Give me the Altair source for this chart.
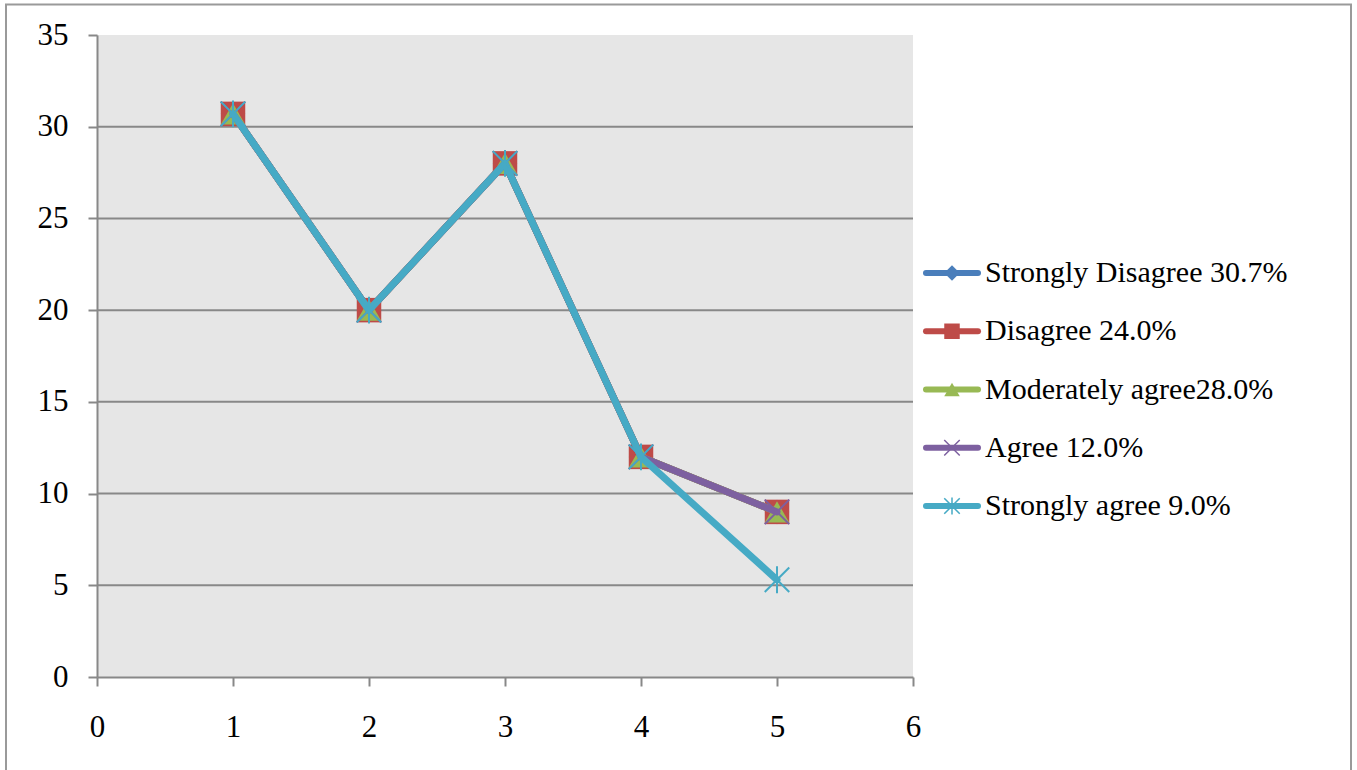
import altair as alt
import pandas as pd

# Survey responses plotted against item number 1..5
item = [1, 2, 3, 4, 5]
series_names = [
    "Strongly Disagree 30.7%",
    "Disagree 24.0%",
    "Moderately agree28.0%",
    "Agree 12.0%",
    "Strongly agree 9.0%",
]
strongly_disagree = [30.7, 20, 28, 12, 9]
disagree = [30.7, 20, 28, 12, 9]
moderately_agree = [30.7, 20, 28, 12, 9]
agree = [30.7, 20, 28, 12, 9]
strongly_agree = [30.7, 20, 28, 12, 5.3]
series_values = [strongly_disagree, disagree, moderately_agree, agree, strongly_agree]

series_colors = ["#4a7ebb", "#be4b48", "#98b954", "#7d60a0", "#46aac5"]
X_PATH = "M-1,-1L1,1M-1,1L1,-1"
STAR_PATH = "M-1,-1L1,1M-1,1L1,-1M0,-1.1L0,1.1"
marker_shapes = ["diamond", "square", "triangle-up", X_PATH, STAR_PATH]
marker_filled = [True, True, True, False, False]

x_ticks = [0, 1, 2, 3, 4, 5, 6]
y_ticks = [0, 5, 10, 15, 20, 25, 30, 35]
grid_levels = [5, 10, 15, 20, 25, 30]

FONT = "Liberation Serif"
GRAY = "#888888"
W, H = 816, 642
LEFT, TOP = 97, 35

x_enc = alt.X(
    "x:Q",
    scale=alt.Scale(domain=[0, 6], nice=False, zero=False),
    axis=alt.Axis(
        values=x_ticks, title=None, grid=False, tickSize=9, tickWidth=2,
        tickColor=GRAY, domainColor=GRAY, domainWidth=2, labelFont=FONT,
        labelFontSize=31, labelColor="black", labelPadding=26, format="d",
        labelFlush=False,
    ),
)
y_enc = alt.Y(
    "y:Q",
    scale=alt.Scale(domain=[0, 35], nice=False),
    axis=alt.Axis(
        values=y_ticks, title=None, grid=False, tickSize=9, tickWidth=2,
        tickColor=GRAY, domainColor=GRAY, domainWidth=2, labelFont=FONT,
        labelFontSize=31, labelColor="black", labelPadding=20, format="d",
        labelFlush=False,
    ),
)

# outer frame around the whole figure
frame = alt.Chart(pd.DataFrame({"k": [0]})).mark_rect(
    fill=None, stroke="#9a9a9a", strokeWidth=2
).encode(
    x=alt.value(-LEFT + 6), x2=alt.value(1351 - LEFT),
    y=alt.value(-TOP + 4.5), y2=alt.value(800),
)

grid = alt.Chart(pd.DataFrame({"y": grid_levels})).mark_rule(
    color=GRAY, strokeWidth=2
).encode(y=y_enc)

plot_layers = [frame, grid]
for name, vals, color, shape, filled in zip(
    series_names, series_values, series_colors, marker_shapes, marker_filled
):
    df = pd.DataFrame({"x": item, "y": vals, "series": name})
    line = alt.Chart(df).mark_line(
        color=color, strokeWidth=7, strokeCap="round", strokeJoin="round"
    ).encode(x=x_enc, y=y_enc)
    pts = alt.Chart(df).mark_point(
        shape=shape, filled=filled, color=color, size=600, opacity=1,
        strokeWidth=1 if filled else 2,
    ).encode(x=x_enc, y=y_enc)
    plot_layers += [line, pts]

plot = alt.layer(*plot_layers)

# legend at the right of the plot area, one row per series
leg_y = alt.Y(
    "row:Q",
    scale=alt.Scale(domain=[0, len(series_names) - 1], range=[238, 471], nice=False, zero=False),
    axis=None,
)
legend_layers = []
for i, (name, color, shape, filled) in enumerate(
    zip(series_names, series_colors, marker_shapes, marker_filled)
):
    row = pd.DataFrame({"row": [i], "series": [name]})
    legend_layers.append(
        alt.Chart(row).mark_rule(color=color, strokeWidth=6, strokeCap="round").encode(
            x=alt.value(829), x2=alt.value(881), y=leg_y
        )
    )
    legend_layers.append(
        alt.Chart(row).mark_point(
            shape=shape, filled=filled, color=color, size=240, opacity=1,
            strokeWidth=1 if filled else 1.5,
        ).encode(x=alt.value(855), y=leg_y)
    )
    legend_layers.append(
        alt.Chart(row).mark_text(
            align="left", baseline="middle", font=FONT, fontSize=30, color="black"
        ).encode(x=alt.value(888), y=leg_y, text="series:N")
    )
legend = alt.layer(*legend_layers)

chart = (
    alt.layer(plot, legend)
    .resolve_scale(y="independent")
    .properties(
        width=W, height=H, autosize="none",
        padding={"left": LEFT, "top": TOP, "right": 1357 - LEFT - W, "bottom": 770 - TOP - H},
        background="white",
    )
    .configure_view(fill="#e6e6e6", stroke=None)
)

chart.save("out.html", embed_options={"renderer": "svg", "actions": False})
